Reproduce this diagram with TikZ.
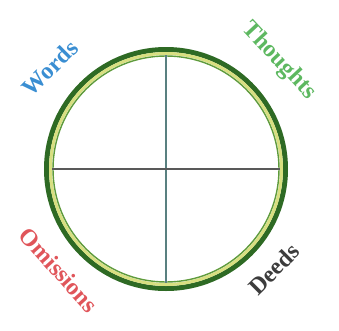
\documentclass[tikz,border=0pt]{standalone}
\usepackage{fontspec}
\setmainfont{Liberation Serif}
\usepackage{tikz}

\definecolor{ringdark}{HTML}{2E6A24}
\definecolor{ringlight}{HTML}{D8DF80}
\definecolor{ringmid}{HTML}{5F9B3C}
\definecolor{wordsblue}{HTML}{3A8ED2}
\definecolor{thoughtsgreen}{HTML}{5DB860}
\definecolor{omitred}{HTML}{E0555A}
\definecolor{deedsgray}{HTML}{3C3C3C}

\begin{document}
\begin{tikzpicture}[
    x=1bp, y=-1bp,
    ring/.style={circle, inner sep=0pt, minimum size=#1},
    label/.style={font=\bfseries\fontsize{24}{24}\selectfont, inner sep=0pt},
    crossline/.style={line width=1.2bp}
]
\useasboundingbox (0,0) rectangle (339,331);

% ring
\node[ring=239bp, draw=ringdark, line width=5bp] (outer) at (166,169) {};
\node[ring=231bp, draw=ringlight, line width=3bp] (band) at (166,169) {};
\node[ring=226bp, draw=ringmid, line width=1.4bp] (inner) at (166,169) {};

% cross
\draw[crossline, draw=gray!70!teal] (inner.north) -- (inner.south);
\draw[crossline, draw=black!65] (inner.west) -- (inner.east);

% labels
\node[label, text=wordsblue, rotate=45] (words) at (50,68) {Words};
\node[label, text=thoughtsgreen, rotate=-47] (thoughts) at (279,61) {Thoughts};
\node[label, text=omitred, rotate=-48] (omissions) at (59,270) {Omissions};
\node[label, text=deedsgray, rotate=45] (deeds) at (274,269) {Deeds};
\end{tikzpicture}
\end{document}
